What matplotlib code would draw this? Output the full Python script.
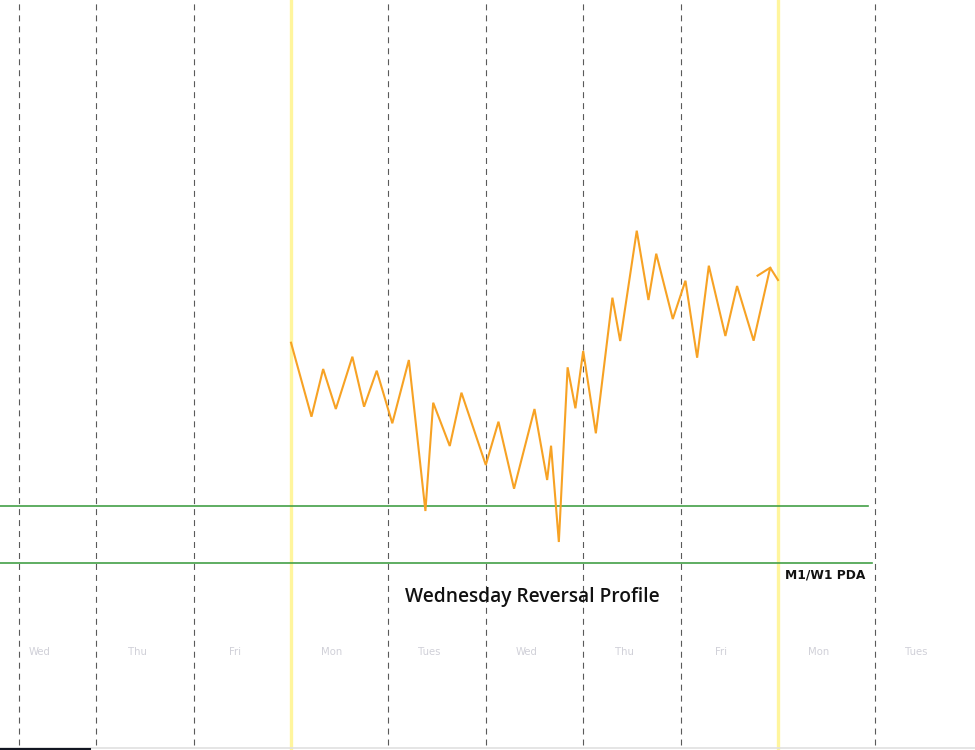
import matplotlib
matplotlib.use("Agg")
import matplotlib.pyplot as plt

# price path, x in days from the first Monday open
px = [0.0, 0.21, 0.33, 0.46, 0.63, 0.75, 0.88, 1.04, 1.21, 1.38, 1.46, 1.63, 1.75,
      2.0, 2.13, 2.29, 2.50, 2.63, 2.67, 2.75, 2.84, 2.92, 3.0, 3.13, 3.30, 3.38,
      3.55, 3.67, 3.75, 3.92, 4.05, 4.17, 4.29, 4.46, 4.58, 4.75, 4.92, 5.0]
py = [122.03, 114.63, 119.4, 115.4, 120.63, 115.63, 119.23, 113.97, 120.3, 105.2,
      116.03, 111.7, 117.03, 109.8, 114.13, 107.43, 115.4, 108.3, 111.73, 102.1,
      119.57, 115.47, 121.2, 112.97, 126.53, 122.2, 133.23, 126.3, 130.93, 124.4,
      128.23, 120.53, 129.73, 122.7, 127.7, 122.23, 129.53, 128.3]
tick_x = [4.79, 4.92]
tick_y = [128.73, 129.53]

pda_levels = [105.7, 100.0]
pda_ends = [5.92, 5.965]

day_names = ["Wed", "Thu", "Fri", "Mon", "Tues", "Wed", "Thu", "Fri", "Mon", "Tues"]
day_starts = [-3, -2, -1, 0, 1, 2, 3, 4, 5, 6]
dashed_x = [-2.79, -2, -1, 1, 2, 3, 4, 6]
week_x = [0, 5]

plt.rcParams["lines.scale_dashes"] = False
fig = plt.figure(figsize=(9.75, 7.5), dpi=100)
ax = fig.add_axes([0, 0, 1, 1])
ax.set_xlim(-2.988, 7.023)
ax.set_ylim(81.3, 156.3)
ax.axis("off")

for x in dashed_x:
    ax.axvline(x, ymin=0.007, ymax=1, color="#5a5a5a", lw=0.8, dashes=(4.3, 3.6), zorder=1)
for x in week_x:
    ax.axvline(x, ymin=0.003, ymax=1, color="#fff59d", lw=2.4, zorder=1)

for lvl, xe in zip(pda_levels, pda_ends):
    ax.plot([-2.988, xe], [lvl, lvl], color="#43a047", lw=1.2, zorder=2)

ax.plot(px, py, color="#f7a224", lw=1.5, zorder=3, solid_joinstyle="miter")
ax.plot(tick_x, tick_y, color="#f7a224", lw=1.5, zorder=3)

ax.text(5.9, 98.85, "M1/W1 PDA", ha="right", va="center", fontsize=8.8,
        fontweight="bold", color="#111111")
ax.text(2.48, 96.6, "Wednesday Reversal Profile", ha="center", va="center",
        fontsize=13.8, fontfamily="Open Sans", fontweight="semibold", color="#111111")

for d, name in zip(day_starts, day_names):
    ax.text(d + 0.42, 91.1, name, ha="center", va="center", fontsize=7.3,
            color="#d0d0d8")

# bottom border and scroll marker
ax.axhline(81.5, color="#e0e0e0", lw=1.2)
ax.plot([-2.988, -2.07], [81.45, 81.45], color="#131722", lw=2.2)

fig.savefig("out.png", dpi=100)
